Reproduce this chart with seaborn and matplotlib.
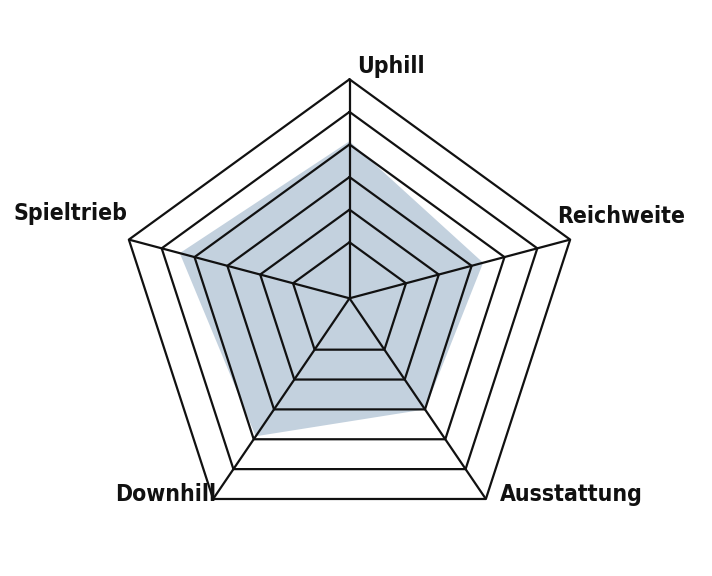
import numpy as np
import pandas as pd
import matplotlib
matplotlib.use("Agg")
import matplotlib.pyplot as plt
from matplotlib import font_manager as fm
import seaborn as sns

# ---- data ----
categories = ["Uphill", "Reichweite", "Ausstattung", "Downhill", "Spieltrieb"]
values = [4.1, 3.35, 3.0, 3.9, 4.45]
ring_levels = [1, 2, 3, 4, 5, 6]

# ---- radial scale ----
R_MIN = -0.72          # value at the centre
R_MAX = ring_levels[-1]
CENTER_SHIFT = 0.056   # pentagon centre lies slightly below the spoke origin

sns.set_theme(style="white")


def pick_font():
    entries = fm.fontManager.ttflist

    def is_bold(e):
        w = e.weight
        if isinstance(w, str):
            return w in ("bold", "heavy", "black", "extra bold", "semibold", "demibold")
        return w >= 600

    cands = [e for e in entries
             if ("condensed" in str(e.stretch).lower() or "narrow" in e.name.lower()
                 or "condensed" in e.name.lower() or "condensed" in e.fname.lower()
                 or "narrow" in e.fname.lower())
             and is_bold(e) and e.style == "normal"]
    if cands:
        return fm.FontProperties(fname=cands[0].fname)
    for fam in ["Roboto", "Lato", "Liberation Sans", "Noto Sans", "DejaVu Sans"]:
        for e in entries:
            if e.name == fam and is_bold(e) and e.style == "normal":
                return fm.FontProperties(fname=e.fname)
    return fm.FontProperties(family="DejaVu Sans", weight="bold")


label_font = pick_font()

n = len(categories)
theta = np.arange(n) * 2 * np.pi / n
dir_x = np.sin(theta)
dir_y = np.cos(theta) - CENTER_SHIFT


def frac(v):
    return (np.asarray(v, dtype=float) - R_MIN) / (R_MAX - R_MIN)


fig = plt.figure(figsize=(7.12, 5.76), dpi=100)
ax = fig.add_axes([0, 0, 1, 1])
S = 232.0  # pixels per unit
ax.set_xlim(-349.5 / S, (712 - 349.5) / S)
ax.set_ylim(-(576 - 298.3) / S, 298.3 / S)
ax.set_axis_off()

# filled data polygon (underneath grid)
fv = frac(values)
px = np.append(fv * dir_x, fv[0] * dir_x[0])
py = np.append(fv * dir_y, fv[0] * dir_y[0])
ax.fill(px, py, color="#c3d1de", lw=0, zorder=1)

# rings
rows = []
for lvl in ring_levels:
    f = frac(lvl)
    for k in list(range(n)) + [0]:
        rows.append({"ring": lvl, "x": f * dir_x[k], "y": f * dir_y[k]})
rings = pd.DataFrame(rows)
sns.lineplot(data=rings, x="x", y="y", units="ring", estimator=None, sort=False,
             color="#111111", lw=1.6, ax=ax, zorder=3, legend=False)

# spokes
fo = frac(R_MAX)
for k in range(n):
    ax.plot([0, fo * dir_x[k]], [0, fo * dir_y[k]], color="#111111", lw=1.6,
            zorder=3, solid_capstyle="butt")
ax.set_xlabel("")
ax.set_ylabel("")

# font size: make "Reichweite" about 128 px wide, capped for height
renderer = fig.canvas.get_renderer()
probe = fig.text(0, 0, "Reichweite", fontproperties=label_font, fontsize=20)
w20 = probe.get_window_extent(renderer).width
probe.remove()
fsize = min(27.0, 20 * 128.0 / w20)
label_font.set_size(fsize)

# labels
offsets = {
    "Uphill": (8, 6, "left"),
    "Reichweite": (-13, 17, "left"),
    "Ausstattung": (14, -2, "left"),
    "Downhill": (3, -2, "right"),
    "Spieltrieb": (-1, 20, "right"),
}
for k, cat in enumerate(categories):
    dx, dy, ha = offsets[cat]
    ax.annotate(cat, xy=(fo * dir_x[k], fo * dir_y[k]), xytext=(dx, dy),
                textcoords="offset pixels", ha=ha, va="baseline",
                fontproperties=label_font, color="#111111")

fig.savefig("out.png", dpi=100)
